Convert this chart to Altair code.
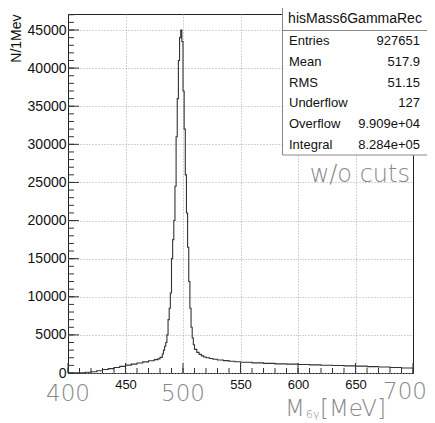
import altair as alt
import pandas as pd

# ---- data ----
mass_edges = [400, 405, 410, 415, 420, 425, 430, 435, 440, 445, 450, 455, 460, 465, 470, 475,
              478, 480, 482, 483, 484, 485, 486, 487, 488, 489, 490, 491, 492, 493, 494, 495,
              496, 497, 498, 499, 500, 501, 502, 503, 504, 505, 506, 507, 508, 509, 510, 512,
              514, 516, 518, 520, 523, 526, 530, 535, 540, 545, 550, 560, 570, 580, 590, 600,
              610, 620, 630, 640, 650, 660, 670, 680, 690, 700]
counts = [0, 0, 20, 100, 170, 300, 450, 580, 720, 870, 1030, 1170, 1320, 1460, 1600, 1750,
          1850, 2050, 2500, 3000, 3500, 4000, 5000, 7000, 8500, 10500, 15000, 17500, 20000, 24500, 31000, 36000,
          41000, 44000, 45000, 43500, 37000, 32000, 26000, 21000, 16500, 12000, 8500, 6000, 4600, 3700, 3100, 2700,
          2450, 2250, 2100, 2000, 1900, 1800, 1700, 1620, 1550, 1480, 1420, 1330, 1260, 1200, 1160, 1120,
          1070, 1020, 980, 940, 900, 840, 780, 720, 660, 620]

x_grid = [450, 500, 550, 600, 650]
x_major_ticks = [400, 450, 500, 550, 600, 650, 700]
x_minor_ticks = list(range(400, 701, 10))
y_major = [0, 5000, 10000, 15000, 20000, 25000, 30000, 35000, 40000, 45000]
y_minor = list(range(0, 47001, 1000))
big_x_labels = [400, 500, 700]

stats_title = "hisMass6GammaRec"
stat_labels = ["Entries", "Mean", "RMS", "Underflow", "Overflow", "Integral"]
stat_values = ["927651", "517.9", "51.15", "127", "9.909e+04", "8.284e+05"]

W, H = 345, 359
xscale = alt.Scale(domain=[400, 700], nice=False, zero=False)
yscale = alt.Scale(domain=[0, 47100], nice=False, zero=True)

x_axis = alt.Axis(values=x_grid, labelExpr="datum.value == 500 ? '' : datum.label",
                  grid=True, gridDash=[1, 2], gridColor="#a8a8a8", ticks=False, domain=False,
                  labelFont="Liberation Sans", labelFontSize=13, labelColor="#111111",
                  labelPadding=5, title=None)
y_axis = alt.Axis(values=y_major, format="d", grid=True, gridDash=[1, 2], gridColor="#a8a8a8",
                  ticks=False, domain=False, labelFont="Liberation Sans", labelFontSize=14,
                  labelColor="#111111", labelPadding=2, title="N/1Mev",
                  titleFont="Liberation Sans", titleFontSize=14, titleFontWeight="normal",
                  titleColor="#111111", titleAnchor="end", titlePadding=4)

hist = pd.DataFrame({"m": mass_edges, "n": counts})

line = alt.Chart(hist).mark_line(interpolate="step-after", color="#333333", strokeWidth=1.1).encode(
    x=alt.X("m:Q", scale=xscale, axis=x_axis),
    y=alt.Y("n:Q", scale=yscale, axis=y_axis),
)

xt_minor = alt.Chart(pd.DataFrame({"m": x_minor_ticks})).mark_rule(color="#333333", strokeWidth=1).encode(
    x=alt.X("m:Q", scale=xscale, axis=x_axis), y=alt.value(H), y2=alt.value(H - 5))
xt_major = alt.Chart(pd.DataFrame({"m": x_major_ticks})).mark_rule(color="#333333", strokeWidth=1).encode(
    x=alt.X("m:Q", scale=xscale, axis=x_axis), y=alt.value(H), y2=alt.value(H - 10))
yt_minor = alt.Chart(pd.DataFrame({"n": y_minor})).mark_rule(color="#333333", strokeWidth=1).encode(
    y=alt.Y("n:Q", scale=yscale, axis=y_axis), x=alt.value(0), x2=alt.value(6))
yt_major = alt.Chart(pd.DataFrame({"n": y_major})).mark_rule(color="#333333", strokeWidth=1).encode(
    y=alt.Y("n:Q", scale=yscale, axis=y_axis), x=alt.value(0), x2=alt.value(11))

big_font = dict(font="DejaVu Sans", fontWeight=300, color="#888888", baseline="alphabetic")

big_lab = alt.Chart(pd.DataFrame({"m": big_x_labels})).transform_filter("datum.m < 700").mark_text(
    fontSize=23, align="center", **big_font
).encode(x=alt.X("m:Q", scale=xscale, axis=x_axis), y=alt.value(H + 28), text=alt.Text("m:Q"))

one = pd.DataFrame({"a": [0]})
lab700 = alt.Chart(one).mark_text(fontSize=23, align="center", **big_font).encode(
    x=alt.value(337), y=alt.value(H + 26), text=alt.value(str(big_x_labels[2])))
xtitle_M = alt.Chart(one).mark_text(fontSize=23, align="left", **big_font).encode(
    x=alt.value(217), y=alt.value(H + 43), text=alt.value("M"))
xtitle_sub = alt.Chart(one).mark_text(fontSize=11, align="left", **big_font).encode(
    x=alt.value(238), y=alt.value(H + 45), text=alt.value("6γ"))
xtitle_unit = alt.Chart(one).mark_text(fontSize=23, align="left", **big_font).encode(
    x=alt.value(252), y=alt.value(H + 43), text=alt.value("[MeV]"))

wocuts = alt.Chart(one).mark_text(fontSize=24, align="right", **big_font).encode(
    x=alt.value(342), y=alt.value(168), text=alt.value("w/o cuts"))

box = alt.Chart(one).mark_rect(fill="white", stroke="#888888", strokeWidth=1).encode(
    x=alt.value(214.5), x2=alt.value(359.5), y=alt.value(-7), y2=alt.value(141))
sep = alt.Chart(one).mark_rule(color="#888888", strokeWidth=1).encode(
    x=alt.value(214.5), x2=alt.value(359.5), y=alt.value(16.5))
box_title = alt.Chart(one).mark_text(font="Liberation Sans", fontSize=14, color="#111111",
                                     align="center", baseline="middle").encode(
    x=alt.value(287), y=alt.value(5), text=alt.value(stats_title))

stat_layers = []
for i, (lab, val) in enumerate(zip(stat_labels, stat_values)):
    py = 27 + i * 20.8
    stat_layers.append(alt.Chart(one).mark_text(
        font="Liberation Sans", fontSize=13, color="#111111", align="left", baseline="middle").encode(
        x=alt.value(221), y=alt.value(py), text=alt.value(lab)))
    stat_layers.append(alt.Chart(one).mark_text(
        font="Liberation Sans", fontSize=13, color="#111111", align="right", baseline="middle").encode(
        x=alt.value(352), y=alt.value(py), text=alt.value(val)))

chart = alt.layer(
    line, xt_minor, xt_major, yt_minor, yt_major, big_lab, lab700, xtitle_M, xtitle_sub, xtitle_unit,
    wocuts, box, sep, box_title, *stat_layers
).properties(
    width=W, height=H,
    padding={"left": 60, "top": 6, "right": 14, "bottom": 50},
    autosize=alt.AutoSizeParams(type="none"),
    background="white",
).configure_view(stroke="#222222", strokeWidth=1)

chart.save("out.html", embed_options={"renderer": "svg", "actions": False})
